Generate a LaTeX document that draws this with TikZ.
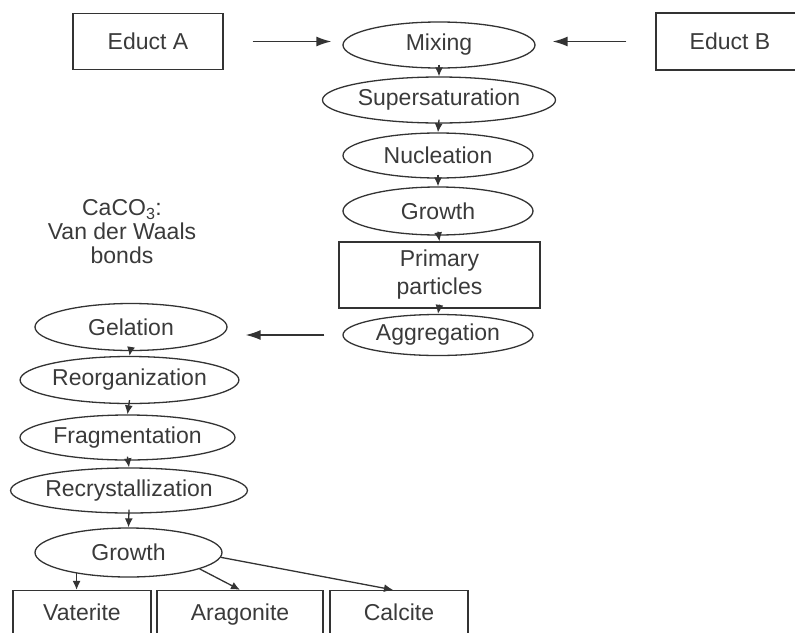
\documentclass[tikz,border=0pt]{standalone}
\usepackage{fontspec}
\setmainfont{Liberation Sans}
\usetikzlibrary{shapes.geometric,arrows.meta}
\definecolor{ink}{HTML}{333333}
\definecolor{txt}{HTML}{3A3A3A}
\begin{document}
\begin{tikzpicture}[x=1pt,y=-1pt,
  every node/.style={font=\fontsize{23}{25}\selectfont, text=txt, inner sep=0pt},
  ell/.style={draw=ink, line width=1.3pt, ellipse},
  rbox/.style={draw=ink, line width=1.3pt, rectangle, align=center},
  prod/.style={rbox, minimum height=44pt, text height=16.5pt, text depth=0pt},
  arr/.style={draw=ink, line width=1.4pt, -{Latex[length=15pt,width=10pt]}},
  sarr/.style={draw=ink, line width=1.3pt, -{Latex[length=9pt,width=8pt]}}]
\useasboundingbox (0,0) rectangle (795,632);
\clip (0,0) rectangle (795,632);
% top column
\node[rbox, minimum width=150pt, minimum height=56pt] (ea) at (148,41.5) {Educt A};
\node[rbox, minimum width=148pt, minimum height=57pt] (eb) at (730,41.5) {Educt B};
\node[ell, minimum width=192pt, minimum height=46pt] (mix) at (439,45) {Mixing};
\node[ell, minimum width=233pt, minimum height=46pt] (sup) at (439,100) {Supersaturation};
\node[ell, minimum width=190pt, minimum height=45pt] (nuc) at (438,155.5) {Nucleation};
\node[ell, minimum width=190pt, minimum height=48pt] (gro) at (438,211) {Growth};
\node[rbox, minimum width=201pt, minimum height=66pt, font=\fontsize{23}{28}\selectfont] (pp) at (439.5,275) {Primary\\particles};
\node[ell, minimum width=190pt, minimum height=41pt] (agg) at (438,335) {Aggregation};
% note
\node[align=center] (note) at (122,232) {CaCO\textsubscript{3}:\\[-1pt]Van der Waals\\[-1pt]bonds};
% lower column
\node[ell, minimum width=192pt, minimum height=47pt] (gel) at (131,327) {Gelation};
\node[ell, minimum width=215pt, minimum height=47pt] (reo) at (129.5,380) {Reorganization};
\node[ell, minimum width=215pt, minimum height=45pt] (fra) at (127.5,437.5) {Fragmentation};
\node[ell, minimum width=232pt, minimum height=45pt] (rec) at (129,490.5) {Recrystallization};
\node[ell, minimum width=187pt, minimum height=49pt] (gr2) at (128.5,552.5) {Growth};
% products
\node[prod, minimum width=138pt] (vat) at (82,612.5) {Vaterite};
\node[prod, minimum width=166pt] (ara) at (240,612.5) {Aragonite};
\node[prod, minimum width=138pt] (cal) at (399,612.5) {Calcite};
% connectors
\draw[arr] ([xshift=29pt]ea.east) -- ([xshift=-11pt]mix.west |- ea.east);
\draw[arr] ([xshift=-29pt]eb.west) -- ([xshift=17pt]mix.east |- eb.west);
\draw[sarr] ([yshift=4pt]mix.south) -- (sup.north);
\draw[sarr] ([yshift=4pt]sup.south) -- (nuc.north);
\draw[sarr] ([yshift=4pt]nuc.south) -- (gro.north);
\draw[sarr] ([yshift=4pt]gro.south) -- (pp.north);
\draw[sarr] ([yshift=4pt]pp.south) -- (agg.north);
\draw[arr] ([xshift=-18pt]agg.west) -- ([xshift=18pt]agg.west -| gel.east);
\draw[sarr] ([yshift=4pt]gel.south) -- (reo.north);
\draw[sarr] ([yshift=4pt]reo.south) -- (fra.north);
\draw[sarr] ([yshift=4pt]fra.south) -- (rec.north);
\draw[sarr] ([yshift=4pt]rec.south) -- (gr2.north);
\draw[sarr] (gr2.202) -- (gr2.202 |- vat.north);
\draw[sarr] (gr2.-13) -- (ara.north);
\draw[sarr] (gr2.-3) -- ([xshift=-6pt]cal.north);
\end{tikzpicture}
\end{document}
